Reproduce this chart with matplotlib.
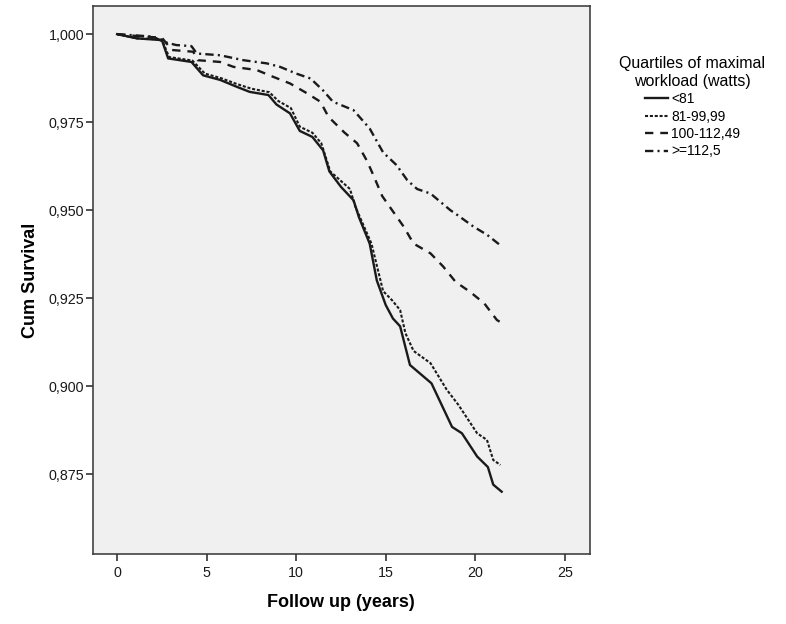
import matplotlib
matplotlib.use("Agg")
import matplotlib.pyplot as plt
from matplotlib.ticker import FuncFormatter

# Kaplan-Meier curves, one per quartile of maximal workload
x_q1 = [0, 1.1, 2.5, 2.85, 4.15, 4.8, 5.75, 6.7, 7.4, 8.45, 8.9, 9.65, 10.2, 10.9, 11.5, 11.85,
        12.5, 13.2, 13.5, 14.1, 14.5, 15.0, 15.4, 15.8, 16.35, 17.55, 18.7, 19.25, 20.1, 20.7,
        21.0, 21.47]
y_q1 = [1.0, 0.9988, 0.9983, 0.9931, 0.9921, 0.9883, 0.987, 0.985, 0.9836, 0.9827, 0.980,
        0.9775, 0.9725, 0.9708, 0.967, 0.961, 0.9566, 0.9528, 0.948, 0.9405, 0.930, 0.923,
        0.9192, 0.917, 0.906, 0.9008, 0.8884, 0.8866, 0.880, 0.877, 0.872, 0.870]

x_q2 = [0, 1.1, 2.5, 2.9, 4.2, 4.9, 5.8, 6.7, 7.5, 8.5, 9.0, 9.7, 10.2, 10.9, 11.4, 11.9,
        13.0, 13.3, 14.2, 14.85, 15.35, 15.8, 16.1, 16.55, 17.5, 18.4, 19.05, 20.1, 20.65,
        21.0, 21.4]
y_q2 = [1.0, 0.9988, 0.9985, 0.9935, 0.9925, 0.9888, 0.9875, 0.9858, 0.9845, 0.9835, 0.981,
        0.979, 0.9737, 0.972, 0.969, 0.961, 0.956, 0.951, 0.9405, 0.927, 0.9244, 0.9216,
        0.915, 0.910, 0.9065, 0.899, 0.8947, 0.8866, 0.8847, 0.879, 0.8776]

x_q3 = [0, 1.45, 2.5, 3.05, 4.25, 4.5, 5.75, 6.5, 7.8, 8.7, 9.65, 10.6, 11.35, 11.8, 12.7,
        13.4, 13.95, 14.3, 14.8, 15.35, 16.0, 16.55, 17.5, 18.2, 18.9, 19.7, 20.5, 21.2, 21.45]
y_q3 = [1.0, 0.9993, 0.999, 0.9955, 0.995, 0.9926, 0.9921, 0.9907, 0.9898, 0.9879, 0.986,
        0.9832, 0.9808, 0.9765, 0.972, 0.969, 0.964, 0.960, 0.954, 0.950, 0.9453, 0.9405,
        0.9377, 0.934, 0.9296, 0.9268, 0.9235, 0.9188, 0.918]

x_q4 = [0, 2.0, 2.6, 3.3, 4.15, 4.45, 5.75, 7.05, 8.35, 9.1, 10.0, 10.8, 11.5, 12.05, 13.2,
        14.1, 14.85, 15.6, 16.2, 16.75, 17.5, 18.6, 19.0, 19.9, 20.65, 21.4]
y_q4 = [1.0, 0.9993, 0.9978, 0.9969, 0.9966, 0.9945, 0.994, 0.9926, 0.9917, 0.9907, 0.9888,
        0.9874, 0.984, 0.9808, 0.9784, 0.9732, 0.9664, 0.9628, 0.9585, 0.956, 0.9547, 0.950,
        0.9486, 0.9453, 0.943, 0.940]

labels = ["<81", "81-99,99", "100-112,49", ">=112,5"]
x_ticks = [0, 5, 10, 15, 20, 25]
y_ticks = [0.875, 0.900, 0.925, 0.950, 0.975, 1.000]

plt.rcParams["font.family"] = ["Liberation Sans", "DejaVu Sans"]
plt.rcParams["lines.scale_dashes"] = False

fig = plt.figure(figsize=(7.86, 6.24), dpi=100)
ax = fig.add_axes([0.118, 0.1122, 0.6326, 0.8782])
ax.set_facecolor("#f0f0f0")

ink = "#1a1a1a"
styles = [
    dict(linestyle="-", linewidth=1.7),
    dict(dashes=(2.2, 1.3), linewidth=1.5),
    dict(dashes=(6, 5), linewidth=1.7),
    dict(dashes=(6, 3, 1.5, 3), linewidth=1.7),
]
series = [(x_q1, y_q1), (x_q2, y_q2), (x_q3, y_q3), (x_q4, y_q4)]
for (xs, ys), lab, st in zip(series, labels, styles):
    ax.plot(xs, ys, color=ink, label=lab, **st)

ax.set_xlim(-1.36, 26.4)
ax.set_ylim(0.8523, 1.008)
ax.set_xticks(x_ticks)
ax.set_yticks(y_ticks)
ax.yaxis.set_major_formatter(FuncFormatter(lambda v, p: f"{v:.3f}".replace(".", ",")))
ax.tick_params(length=5, width=1.2, color="#333333", labelsize=10.3, labelcolor="#1a1a1a")
ax.tick_params(axis="y", pad=1)
ax.tick_params(axis="x", pad=4)
for sp in ax.spines.values():
    sp.set_color("#333333")
    sp.set_linewidth(1.1)

ax.set_xlabel("Follow up (years)", fontsize=13, fontweight="bold", va="center")
ax.set_ylabel("Cum Survival", fontsize=13, fontweight="bold", va="center")
ax.xaxis.set_label_coords(0.5, -0.0894)
ax.yaxis.set_label_coords(-0.126, 0.5)

leg = fig.legend(loc="upper left", bbox_to_anchor=(0.772, 0.93), frameon=False,
                 title="Quartiles of maximal\nworkload (watts)", title_fontsize=11.5,
                 fontsize=10, handlelength=1.7, handletextpad=0.2, labelspacing=0.25)
leg._legend_box.align = "center"
leg.get_title().set_multialignment("center")

fig.savefig("out.png", dpi=100, facecolor="white")
